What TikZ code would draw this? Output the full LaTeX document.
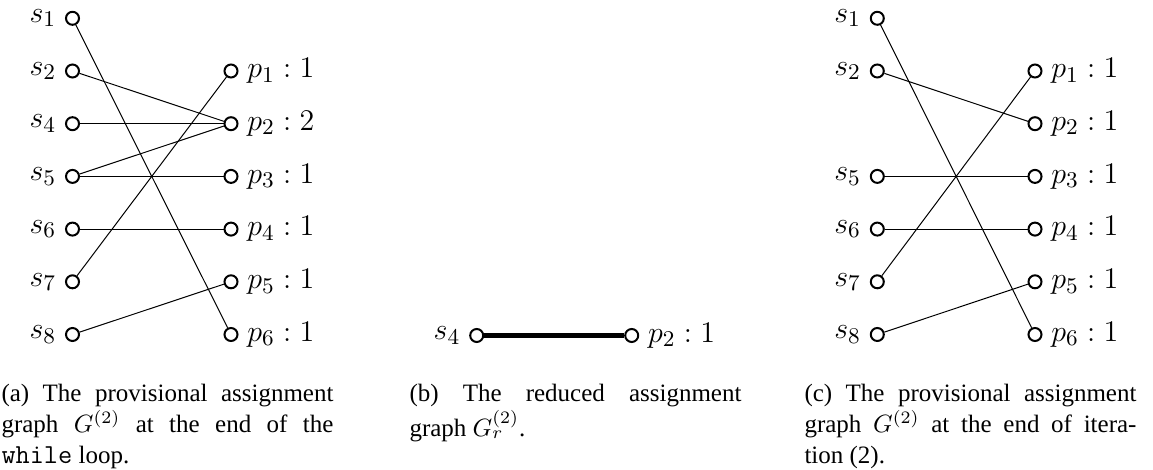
\documentclass[tikz,border=0pt]{standalone}
\usepackage{fontspec}
\setmainfont{Liberation Serif}
\begin{document}
\begin{tikzpicture}[x=0.4pt,y=-0.4pt,
  vtx/.style={circle,draw,line width=0.8pt,minimum size=5.2pt,inner sep=0pt},
  lbl/.style={font=\fontsize{13}{15}\selectfont},
  edge/.style={line width=0.4pt},
  redge/.style={line width=2.2pt},
  captext/.style={anchor=base west,inner sep=0pt,text width=132.8pt,align=justify,font=\fontsize{10}{12.3}\selectfont}]
\useasboundingbox (0,0) rectangle (1153,470);
\newcommand{\codeword}[1]{{\fontsize{11}{12}\ttfamily #1}}
% ---------- (a) ----------
\node[vtx,label={[lbl]left:{$s_1$}}] (a1) at (72.5,18.3) {};
\node[vtx,label={[lbl]left:{$s_2$}}] (a2) at (72.5,71) {};
\node[vtx,label={[lbl]left:{$s_4$}}] (a4) at (72.5,123.7) {};
\node[vtx,label={[lbl]left:{$s_5$}}] (a5) at (72.5,176.4) {};
\node[vtx,label={[lbl]left:{$s_6$}}] (a6) at (72.5,229.1) {};
\node[vtx,label={[lbl]left:{$s_7$}}] (a7) at (72.5,281.8) {};
\node[vtx,label={[lbl]left:{$s_8$}}] (a8) at (72.5,334.5) {};
\node[vtx,label={[lbl]right:{$p_1 : 1$}}] (ap1) at (231,71) {};
\node[vtx,label={[lbl]right:{$p_2 : 2$}}] (ap2) at (231,123.7) {};
\node[vtx,label={[lbl]right:{$p_3 : 1$}}] (ap3) at (231,176.4) {};
\node[vtx,label={[lbl]right:{$p_4 : 1$}}] (ap4) at (231,229.1) {};
\node[vtx,label={[lbl]right:{$p_5 : 1$}}] (ap5) at (231,281.8) {};
\node[vtx,label={[lbl]right:{$p_6 : 1$}}] (ap6) at (231,334.5) {};
\draw[edge] (a1) -- (ap6);
\draw[edge] (a2) -- (ap2);
\draw[edge] (a4) -- (ap2);
\draw[edge] (a5) -- (ap2);
\draw[edge] (a5) -- (ap3);
\draw[edge] (a6) -- (ap4);
\draw[edge] (a7) -- (ap1);
\draw[edge] (a8) -- (ap5);
\node[captext] (capa) at (1,402) {(a) The provisional assignment\linebreak graph $G^{(2)}$ at the end of the\linebreak \codeword{while} loop.};
% ---------- (b) ----------
\node[vtx,label={[lbl]left:{$s_4$}}] (b4) at (476.7,335.5) {};
\node[vtx,label={[lbl]right:{$p_2 : 1$}}] (bp2) at (631.7,335.5) {};
\draw[redge] (b4) -- (bp2);
\node[captext] (capb) at (409,402) {(b) The reduced assignment\linebreak graph $G_r^{(2)}$.};
% ---------- (c) ----------
\node[vtx,label={[lbl]left:{$s_1$}}] (c1) at (877.3,18.3) {};
\node[vtx,label={[lbl]left:{$s_2$}}] (c2) at (877.3,71) {};
\node[vtx,label={[lbl]left:{$s_5$}}] (c5) at (877.3,176.4) {};
\node[vtx,label={[lbl]left:{$s_6$}}] (c6) at (877.3,229.1) {};
\node[vtx,label={[lbl]left:{$s_7$}}] (c7) at (877.3,281.8) {};
\node[vtx,label={[lbl]left:{$s_8$}}] (c8) at (877.3,334.5) {};
\node[vtx,label={[lbl]right:{$p_1 : 1$}}] (cp1) at (1035,71) {};
\node[vtx,label={[lbl]right:{$p_2 : 1$}}] (cp2) at (1035,123.7) {};
\node[vtx,label={[lbl]right:{$p_3 : 1$}}] (cp3) at (1035,176.4) {};
\node[vtx,label={[lbl]right:{$p_4 : 1$}}] (cp4) at (1035,229.1) {};
\node[vtx,label={[lbl]right:{$p_5 : 1$}}] (cp5) at (1035,281.8) {};
\node[vtx,label={[lbl]right:{$p_6 : 1$}}] (cp6) at (1035,334.5) {};
\draw[edge] (c1) -- (cp6);
\draw[edge] (c2) -- (cp2);
\draw[edge] (c5) -- (cp3);
\draw[edge] (c6) -- (cp4);
\draw[edge] (c7) -- (cp1);
\draw[edge] (c8) -- (cp5);
\node[captext] (capc) at (804,402) {(c) The provisional assignment\linebreak graph $G^{(2)}$ at the end of itera-\linebreak tion (2).};
\end{tikzpicture}
\end{document}
